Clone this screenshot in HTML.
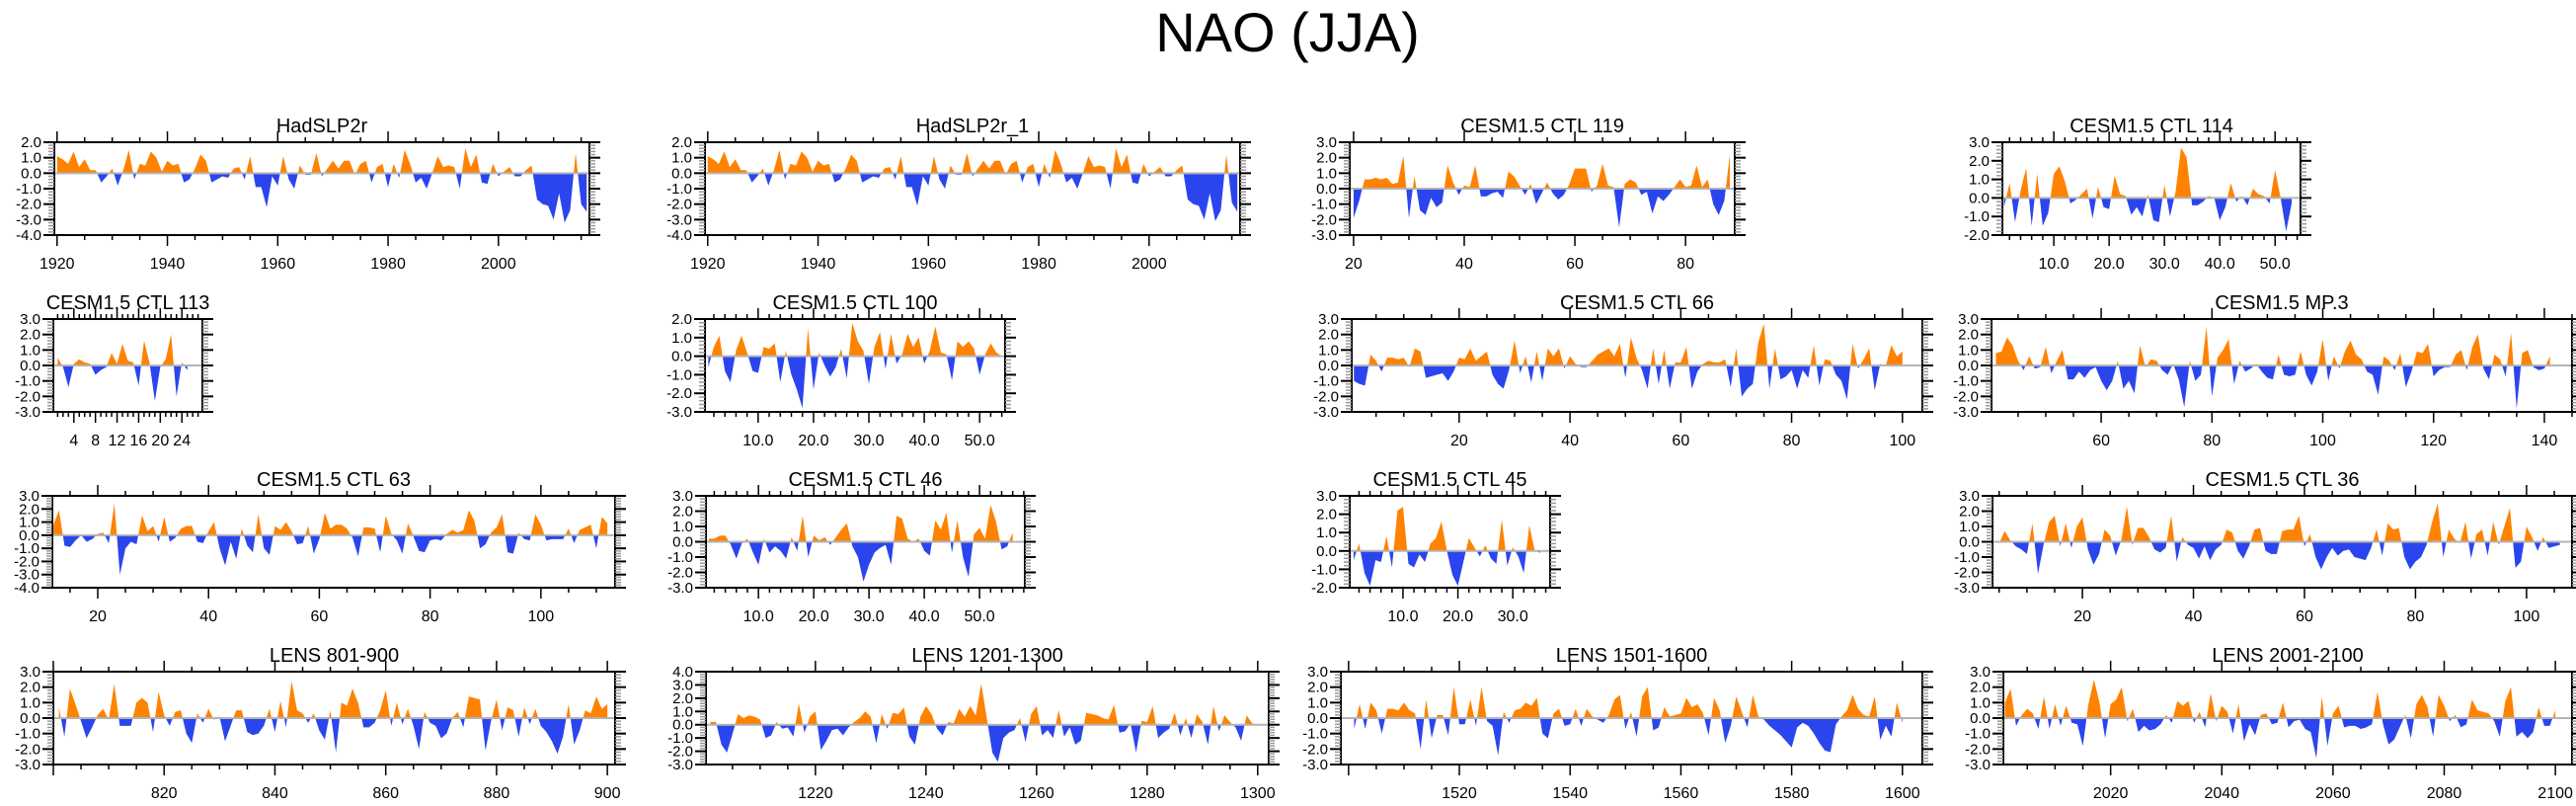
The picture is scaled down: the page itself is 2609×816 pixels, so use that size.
<!DOCTYPE html>
<html><head><meta charset="utf-8"><title>NAO (JJA)</title>
<style>
html,body{margin:0;padding:0;background:#fff;}
svg{display:block;font-family:"Liberation Sans",Arial,sans-serif;}
</style></head>
<body>
<svg id="fig" xmlns="http://www.w3.org/2000/svg" width="2609" height="816" viewBox="0 0 2609 816">
<rect x="0" y="0" width="2609" height="816" fill="#fff"/>
<text x="1304" y="52" font-size="56" text-anchor="middle" fill="#000">NAO (JJA)</text>
</svg>
<script>
// ---- data arrays (one value per time step) ----
const hadX0 = 1920;
const hadVals = [1.1,0.9,0.6,1.4,0.4,0.9,0.2,0.2,-0.6,-0.2,0.3,-0.8,0.2,1.5,-0.4,0.6,0.5,1.4,1.0,0.1,0.8,0.5,0.6,-0.6,-0.4,0.3,1.2,0.8,-0.6,-0.4,-0.2,-0.3,0.3,0.4,-0.4,1.1,-0.9,-0.9,-2.2,-0.2,-0.8,1.1,-0.4,-1.0,0.5,-0.1,-0.1,1.3,-0.2,0.3,0.8,0.3,0.8,0.8,-0.1,0.6,0.8,-0.6,0.4,0.6,-0.9,0.6,-0.3,1.5,0.6,-0.6,-0.3,-1.0,0.0,1.1,0.4,0.5,0.4,-1.0,1.6,0.4,1.2,-0.6,-0.7,0.6,-0.2,0.1,0.4,-0.2,-0.2,0.2,0.5,-1.7,-2.0,-2.1,-3.0,-1.3,-3.2,-2.4,1.3,-2.0,-2.5];
const had1X0 = 1920;
const had1Vals = [1.1,0.9,0.6,1.4,0.4,0.9,0.2,0.2,-0.6,-0.2,0.3,-0.8,0.2,1.5,-0.4,0.6,0.5,1.4,1.0,0.1,0.8,0.5,0.6,-0.6,-0.4,0.3,1.2,0.8,-0.6,-0.4,-0.2,-0.3,0.3,0.4,-0.4,1.1,-0.9,-0.9,-2.1,-0.2,-0.8,1.1,-0.4,-1.0,0.5,-0.1,-0.1,1.3,-0.2,0.3,0.8,0.3,0.8,0.8,-0.1,0.6,0.8,-0.6,0.4,0.6,-0.9,0.6,-0.3,1.5,0.6,-0.6,-0.3,-1.0,0.0,1.1,0.4,0.5,0.4,-1.0,1.6,0.4,1.2,-0.6,-0.7,0.6,-0.2,0.1,0.4,-0.2,-0.2,0.2,0.5,-1.7,-2.0,-2.1,-3.0,-1.3,-3.1,-2.4,1.2,-1.9,-2.5];
const c119X0 = 20;
const c119Vals = [-1.9,-0.8,0.6,0.6,0.7,0.6,0.7,0.3,0.4,2.1,-1.9,0.8,-1.4,-1.7,-0.6,-1.2,-0.9,1.5,0.4,-0.4,0.2,0.1,1.5,-0.5,-0.5,-0.3,-0.2,-0.6,1.1,0.8,0.2,-0.4,0.3,-1.0,-0.3,0.4,-0.3,-0.7,-0.4,0.3,1.3,1.3,1.3,-0.2,0.2,1.6,0.2,0.1,-2.5,0.3,0.6,0.4,-0.4,-0.2,-1.6,-0.5,-0.8,-0.4,0.1,0.6,0.1,0.2,1.5,0.1,0.6,-1.0,-1.7,-0.8,2.2];
const c114X0 = 1;
const c114Vals = [-0.5,0.8,-1.3,0.4,1.6,-1.5,1.3,-1.5,-0.8,1.3,1.7,0.9,-0.3,-0.1,0.2,0.5,-1.1,0.6,-0.5,-0.6,1.2,0.2,0.1,-0.9,-0.5,-1.0,0.2,-1.2,-1.3,0.7,-1.0,0.3,2.7,2.2,-0.4,-0.4,-0.2,0.1,0.0,-1.2,-0.5,0.8,-0.2,0.1,-0.4,0.5,0.2,0.1,-0.3,1.5,0.0,-1.8,-0.3];
const c113X0 = 1;
const c113Vals = [0.5,-0.1,-1.4,0.1,0.4,0.2,0.1,-0.6,-0.3,-0.1,0.8,0.1,1.4,0.3,0.2,-1.3,1.6,0.2,-2.3,-0.1,0.4,2.0,-2.0,0.2,-0.3];
const c100X0 = 1;
const c100Vals = [-0.6,0.5,1.1,-0.8,-1.4,0.3,1.1,0.2,-0.8,-0.9,0.5,0.4,0.7,-1.4,0.3,-1.0,-1.8,-2.8,1.5,-1.8,0.2,-0.5,-1.1,-0.6,0.4,-1.2,1.8,0.8,0.3,-1.5,0.5,1.3,-0.7,1.2,-0.4,0.1,1.2,0.5,1.0,-0.4,0.3,1.6,0.2,0.1,-1.3,0.8,0.5,0.8,0.4,-1.0,0.1,0.7,0.2,0.0];
const c66X0 = 1;
const c66Vals = [-1.0,-1.2,-1.3,0.7,0.3,-0.4,0.5,0.5,0.4,0.5,-0.1,1.1,0.9,-0.8,-0.7,-0.6,-0.5,-1.0,-0.4,0.5,0.4,1.1,0.3,0.6,0.9,-0.6,-1.2,-1.5,-0.3,1.6,-0.5,0.6,-1.1,0.9,-1.0,1.1,0.6,1.1,-0.2,0.6,0.1,-0.1,-0.1,0.3,0.7,0.9,1.1,0.6,1.4,-0.8,1.8,0.5,-0.3,-1.5,1.1,-1.2,1.0,-1.5,0.2,0.2,1.2,-1.5,-0.4,0.1,0.3,0.2,0.2,0.4,-1.4,1.1,-2.0,-1.5,-1.2,1.5,2.7,-1.5,1.1,-0.9,-0.7,-0.3,-1.5,-0.3,-0.8,1.3,-1.3,0.4,0.3,-0.6,-1.0,-2.2,1.4,-0.2,0.4,1.1,-1.6,0.1,0.0,1.3,0.6,0.9];
const mp3X0 = 41;
const mp3Vals = [0.8,0.9,1.8,1.3,0.3,-0.3,0.6,-0.2,-0.1,1.2,-0.5,0.3,1.0,-0.9,-0.9,-0.4,-0.8,-0.3,-0.1,-1.0,-1.6,-1.0,0.3,-1.5,-1.0,-1.8,1.3,-0.1,0.4,0.3,-0.3,-0.6,0.1,-0.9,-2.7,0.3,-1.0,-0.6,2.5,-2.0,0.5,1.0,1.7,-1.2,0.3,-0.4,-0.2,0.1,-0.4,-0.8,-0.9,0.7,-0.6,-0.7,-0.6,0.9,-0.6,-1.3,-0.4,1.7,-1.0,0.6,-0.2,0.9,1.6,0.7,0.4,-0.4,-0.6,-1.9,0.6,0.3,-0.3,0.8,-1.4,-0.4,0.9,0.8,1.4,-0.7,-0.3,-0.1,-0.1,0.7,1.0,-0.3,1.2,2.0,-0.2,-0.9,0.7,0.4,-0.7,2.1,-2.8,0.8,1.0,-0.1,-0.3,-0.2,0.6];
const c63X0 = 12;
const c63Vals = [0.8,1.9,-0.8,-0.9,-0.4,0.0,-0.5,-0.3,0.1,0.2,-0.6,2.4,-3.0,-1.0,-0.5,-0.7,1.5,0.3,0.7,-0.5,1.4,-0.5,-0.2,0.5,0.7,0.7,-0.5,-0.6,0.3,1.0,-1.0,-2.3,-0.5,-1.8,0.5,-0.8,-1.3,1.6,-1.0,-1.5,0.7,0.4,1.0,0.3,-0.7,-0.6,0.7,-1.4,-0.3,1.7,0.5,0.8,0.8,0.5,-0.2,-1.6,0.6,0.6,0.5,-1.3,1.5,0.1,-0.4,-1.4,0.9,-0.1,-1.2,-1.3,-0.4,-0.3,-0.4,0.1,0.4,0.2,0.4,1.9,1.1,-1.0,-0.7,0.2,0.6,1.6,-1.3,-1.4,0.2,-0.3,-0.4,1.6,0.8,-0.4,-0.3,-0.3,-0.3,0.5,-0.6,0.4,0.6,0.8,-1.0,1.4,0.9];
const c46X0 = 1;
const c46Vals = [0.2,0.2,0.4,0.4,-0.2,-1.1,-0.1,0.2,-0.7,-1.5,0.2,-0.7,-0.3,-0.6,-1.1,0.3,-0.6,1.7,-1.0,0.4,0.1,0.3,-0.2,0.3,0.8,1.2,-0.3,-1.0,-2.6,-1.5,-0.7,-0.4,-0.2,-1.5,1.7,1.5,0.2,0.0,0.2,-0.6,-0.9,1.4,0.8,1.9,-0.7,1.4,-1.0,-2.3,0.5,0.9,0.2,2.4,1.3,-0.5,-0.3,0.6];
const c45X0 = 1;
const c45Vals = [-0.5,0.4,-1.2,-1.9,-0.5,-0.6,0.8,-0.9,2.2,2.4,-0.7,-0.9,-0.2,-0.6,0.4,0.7,1.6,0.0,-1.3,-1.9,-0.6,0.7,0.2,-0.3,0.3,-0.4,-0.7,1.7,-0.8,0.2,-0.3,-1.2,1.4,0.0,-0.1];
const c36X0 = 5;
const c36Vals = [-0.1,0.7,0.1,-0.3,-0.5,-0.8,1.2,-2.1,-0.2,1.3,1.7,-0.3,1.2,-0.4,1.0,1.6,-0.5,-1.5,-0.8,0.8,0.4,-0.9,0.1,2.3,-0.2,0.9,0.9,0.3,-0.5,-0.7,-0.4,1.7,-1.3,0.3,-0.2,-0.4,-1.1,-0.3,-1.2,-0.5,-0.2,0.8,0.6,-0.6,-1.1,-0.3,0.8,0.9,-0.6,-0.8,-0.8,0.7,0.8,0.8,1.7,-0.3,0.5,-1.0,-1.8,-1.0,-0.4,-0.9,-0.6,-0.5,-1.0,-1.1,-1.2,-0.4,0.8,-0.9,1.2,0.8,0.9,-1.0,-1.8,-1.3,-1.0,-0.2,1.3,2.5,-1.0,0.8,0.2,-0.1,1.3,-1.1,0.5,0.8,-0.9,1.3,-0.2,1.0,2.2,-1.7,-1.3,1.0,0.3,-0.6,0.3,-0.4,-0.3,-0.2];
const l800X0 = 801;
const l800Vals = [0.7,-1.2,1.9,0.9,-0.2,-1.3,-0.6,0.2,0.6,-0.1,2.2,-0.5,-0.5,-0.5,1.0,1.3,1.0,-0.9,1.7,0.2,-0.5,0.4,0.5,-1.0,-1.6,0.3,-0.3,0.6,-0.1,0.1,-1.5,-0.5,0.5,0.5,-0.9,-1.1,-1.0,-0.5,0.6,-0.9,1.1,-0.6,2.4,0.5,0.3,-0.3,0.3,-0.8,-1.4,0.5,-2.2,1.0,0.8,1.9,1.0,-0.6,-0.6,-0.3,0.5,1.8,-0.5,1.0,-0.4,0.6,-0.5,-2.0,0.4,-0.3,-0.5,-1.3,-1.0,0.0,0.4,-0.6,1.4,1.3,1.2,-2.1,-0.2,1.2,-0.8,0.7,0.5,-1.2,0.7,-0.4,0.6,-0.5,-0.9,-1.5,-2.3,-1.2,0.9,-1.7,-0.8,0.5,0.3,1.4,0.6,0.9];
const l1200X0 = 1201;
const l1200Vals = [0.2,0.2,-1.5,-2.1,-0.7,0.8,0.5,0.7,0.6,0.4,-1.0,-0.8,0.2,-0.3,-0.2,-0.9,1.6,-0.6,0.6,1.0,-1.9,-1.2,-0.4,-0.3,-0.8,-0.2,0.2,0.5,1.0,0.6,-1.4,0.8,-0.3,0.9,0.8,1.3,-0.9,-1.5,0.6,1.4,0.8,-0.3,-0.8,0.2,0.1,1.2,0.6,1.4,0.7,3.1,0.5,-2.1,-2.8,-1.0,-0.6,-0.4,0.5,-1.3,0.8,1.4,-0.8,-0.4,-1.0,1.1,-0.9,-0.2,-1.5,-1.2,0.9,0.8,0.7,0.5,0.4,1.5,-0.6,-0.5,0.1,-2.1,0.3,0.2,1.4,-1.0,-0.6,-0.3,0.9,-0.8,0.5,-1.0,0.8,0.2,-1.5,1.4,-0.5,0.7,0.2,-0.2,-1.2,0.7,0.1,0.0];
const l1500X0 = 1501;
const l1500Vals = [-0.7,0.9,-0.7,1.0,0.5,-1.0,0.6,0.6,0.5,1.0,0.5,0.3,-2.0,1.2,-1.3,0.2,0.2,-1.1,2.0,-0.4,-0.4,1.2,-0.5,2.0,-0.2,-0.5,-2.4,0.4,-0.3,0.5,0.6,1.0,0.8,1.3,-1.0,-1.3,0.3,0.6,-0.5,-0.4,0.6,-0.5,0.6,0.1,-0.1,-0.3,0.2,1.2,1.5,-0.7,0.4,-1.2,1.4,2.0,-0.8,-0.6,0.7,0.1,0.2,0.3,1.3,0.7,0.9,0.3,-1.1,1.3,0.5,-1.6,-0.5,1.4,0.4,-0.6,1.5,0.1,-0.1,-0.5,-0.8,-1.1,-1.5,-1.9,-0.6,-0.3,-0.5,-1.0,-1.6,-2.1,-2.2,-0.4,0.1,0.5,1.5,0.6,0.2,0.1,1.4,-1.4,-0.5,-1.2,1.0,-0.3];
const l2000X0 = 2001;
const l2000Vals = [1.0,1.9,-0.5,0.2,0.6,0.3,-0.7,1.4,-0.7,0.9,-0.5,0.8,-0.3,-0.4,-1.8,0.9,2.5,1.0,-1.3,0.9,1.2,2.0,-0.2,0.6,-0.9,-0.5,-0.8,-0.7,-0.4,0.2,-0.3,1.1,0.8,1.1,-0.3,0.4,-0.6,1.6,-0.2,0.8,0.4,-1.0,0.9,-1.5,-0.4,-1.1,0.2,0.3,-0.4,-0.3,1.0,-0.6,-0.2,-0.1,-0.7,-0.9,-2.6,1.4,-1.8,0.3,0.8,-0.6,-0.5,-0.5,-0.7,-0.6,-0.4,1.7,-0.4,-1.7,-1.4,-0.6,0.2,-1.3,0.9,1.5,0.7,-1.2,1.5,0.8,-0.2,0.2,-0.6,-0.4,1.2,0.5,0.4,0.3,-0.2,-1.2,1.1,2.0,-1.2,-0.9,-1.3,-0.9,0.7,-0.5,-0.5,0.5];
// tick label arrays
const yearTicks1900 = [1920,1940,1960,1980,2000];
const ticks20to80 = [20,40,60,80];
const ticks10to50 = [10,20,30,40,50];
const ticks4to24 = [4,8,12,16,20,24];
const ticks20to100 = [20,40,60,80,100];
const ticks60to140 = [60,80,100,120,140];
const ticks10to30 = [10,20,30];
const ticks820 = [820,840,860,880,900];
const ticks1220 = [1220,1240,1260,1280,1300];
const ticks1520 = [1520,1540,1560,1580,1600];
const ticks2020 = [2020,2040,2060,2080,2100];

// ---- layout (not data) ----
const panels = [
 {name:'hadslp2r',title:'HadSLP2r',L:55,R:597,T:144,B:238,xmin:1919.5,xmax:2016.5,ymin:-4,ymax:2,x0:hadX0,vals:hadVals,ticks:yearTicks1900,minor:5,dec:false},
 {name:'hadslp2r-1',title:'HadSLP2r_1',L:714,R:1256,T:144,B:238,xmin:1919.5,xmax:2016.5,ymin:-4,ymax:2,x0:had1X0,vals:had1Vals,ticks:yearTicks1900,minor:5,dec:false},
 {name:'ctl-119',title:'CESM1.5 CTL 119',L:1367,R:1757,T:144,B:238,xmin:19.3,xmax:88.9,ymin:-3,ymax:3,x0:c119X0,vals:c119Vals,ticks:ticks20to80,minor:5,dec:false},
 {name:'ctl-114',title:'CESM1.5 CTL 114',L:2028,R:2330,T:144,B:238,xmin:0.7,xmax:54.6,ymin:-2,ymax:3,x0:c114X0,vals:c114Vals,ticks:ticks10to50,minor:2,dec:true},
 {name:'ctl-113',title:'CESM1.5 CTL 113',L:54,R:205,T:323,B:417,xmin:0.2,xmax:27.8,ymin:-3,ymax:3,x0:c113X0,vals:c113Vals,ticks:ticks4to24,minor:1,dec:false},
 {name:'ctl-100',title:'CESM1.5 CTL 100',L:714,R:1018,T:323,B:417,xmin:0.4,xmax:54.6,ymin:-3,ymax:2,x0:c100X0,vals:c100Vals,ticks:ticks10to50,minor:2,dec:true},
 {name:'ctl-66',title:'CESM1.5 CTL 66',L:1369,R:1947,T:323,B:417,xmin:0.6,xmax:103.6,ymin:-3,ymax:3,x0:c66X0,vals:c66Vals,ticks:ticks20to100,minor:5,dec:false},
 {name:'mp-3',title:'CESM1.5 MP.3',L:2017,R:2605,T:323,B:417,xmin:40.2,xmax:145,ymin:-3,ymax:3,x0:mp3X0,vals:mp3Vals,ticks:ticks60to140,minor:5,dec:false},
 {name:'ctl-63',title:'CESM1.5 CTL 63',L:53,R:623,T:502,B:595,xmin:11.8,xmax:113.4,ymin:-4,ymax:3,x0:c63X0,vals:c63Vals,ticks:ticks20to100,minor:5,dec:false},
 {name:'ctl-46',title:'CESM1.5 CTL 46',L:715,R:1038,T:502,B:595,xmin:0.5,xmax:58.2,ymin:-3,ymax:3,x0:c46X0,vals:c46Vals,ticks:ticks10to50,minor:2,dec:true},
 {name:'ctl-45',title:'CESM1.5 CTL 45',L:1367,R:1570,T:502,B:595,xmin:0.3,xmax:36.8,ymin:-2,ymax:3,x0:c45X0,vals:c45Vals,ticks:ticks10to30,minor:2,dec:true},
 {name:'ctl-36',title:'CESM1.5 CTL 36',L:2018,R:2605,T:502,B:595,xmin:3.8,xmax:108.2,ymin:-3,ymax:3,x0:c36X0,vals:c36Vals,ticks:ticks20to100,minor:5,dec:false},
 {name:'lens-801-900',title:'LENS 801-900',L:54,R:623,T:680,B:774,xmin:800,xmax:901.4,ymin:-3,ymax:3,x0:l800X0,vals:l800Vals,ticks:ticks820,minor:5,dec:false},
 {name:'lens-1201-1300',title:'LENS 1201-1300',L:715,R:1285,T:680,B:774,xmin:1200.2,xmax:1302,ymin:-3,ymax:4,x0:l1200X0,vals:l1200Vals,ticks:ticks1220,minor:5,dec:false},
 {name:'lens-1501-1600',title:'LENS 1501-1600',L:1358,R:1947,T:680,B:774,xmin:1498.6,xmax:1603.6,ymin:-3,ymax:3,x0:l1500X0,vals:l1500Vals,ticks:ticks1520,minor:5,dec:false},
 {name:'lens-2001-2100',title:'LENS 2001-2100',L:2029,R:2605,T:680,B:774,xmin:2000.7,xmax:2103,ymin:-3,ymax:3,x0:l2000X0,vals:l2000Vals,ticks:ticks2020,minor:5,dec:false}
];

const NS='http://www.w3.org/2000/svg';
const fig=document.getElementById('fig');
function mk(tag,attrs,parent){const e=document.createElementNS(NS,tag);for(const k in attrs)e.setAttribute(k,attrs[k]);parent.appendChild(e);return e;}

panels.forEach(p=>{
  const g=mk('g',{},fig);
  
  
  const sx=v=>p.L+(v-p.xmin)/(p.xmax-p.xmin)*(p.R-p.L);
  const sy=v=>p.B-(v-p.ymin)/(p.ymax-p.ymin)*(p.B-p.T);
  const y0=sy(0);
  // fills
  const pts=p.vals.map((v,i)=>[p.x0+i,v]);
  function poly(sign){
    let d='M'+sx(pts[0][0]).toFixed(2)+','+y0.toFixed(2);
    for(let i=0;i<pts.length;i++){
      const [x,v]=pts[i];
      if(i>0){const [xp,vp]=pts[i-1]; if((vp>0&&v<0)||(vp<0&&v>0)){const xc=xp+(0-vp)/(v-vp)*(x-xp); d+=' L'+sx(xc).toFixed(2)+','+y0.toFixed(2);}}
      const c=sign>0?Math.max(v,0):Math.min(v,0);
      d+=' L'+sx(x).toFixed(2)+','+sy(c).toFixed(2);
    }
    d+=' L'+sx(pts[pts.length-1][0]).toFixed(2)+','+y0.toFixed(2)+' Z';
    return d;
  }
  const pos=mk('path',{d:poly(1),fill:'#ff8200',stroke:'none'},g);
  
  
  const neg=mk('path',{d:poly(-1),fill:'#2b45ee',stroke:'none'},g);
  
  
  const zl=mk('line',{x1:p.L,x2:p.R,y1:y0,y2:y0,stroke:'#b4b4b4','stroke-width':2},g);
  
  
  // frame
  const fr=mk('rect',{x:p.L,y:p.T,width:p.R-p.L,height:p.B-p.T,fill:'none',stroke:'#000','stroke-width':2},g);
  
  
  // y ticks
  for(let v=p.ymin;v<=p.ymax+1e-9;v+=0.2){
    const y=sy(v); const major=Math.abs(v-Math.round(v))<1e-6;
    const len=major?11:6; const col=major?'#000':'#999';
    mk('line',{x1:p.L-len,x2:p.L,y1:y,y2:y,stroke:col,'stroke-width':major?2:1.5},g);
    mk('line',{x1:p.R,x2:p.R+len,y1:y,y2:y,stroke:col,'stroke-width':major?2:1.5},g);
    if(major){
      const t=mk('text',{x:p.L-13,y:y+5,'font-size':15,'text-anchor':'end',fill:'#000'},g);
      t.textContent=Math.round(v).toFixed(1);
      
      
    }
  }
  // x ticks
  const start=Math.ceil(p.xmin/p.minor)*p.minor;
  for(let v=start;v<=p.xmax;v+=p.minor){
    const x=sx(v); const major=p.ticks.indexOf(Math.round(v))>=0 || (Math.round(v)%(p.ticks[1]-p.ticks[0])===0);
    const len=major?11:5;
    mk('line',{x1:x,x2:x,y1:p.T-len,y2:p.T,stroke:'#000','stroke-width':1.5},g);
    mk('line',{x1:x,x2:x,y1:p.B,y2:p.B+len,stroke:'#000','stroke-width':1.5},g);
  }
  p.ticks.forEach(v=>{
    const t=mk('text',{x:sx(v),y:p.B+34,'font-size':16,'text-anchor':'middle',fill:'#000'},g);
    t.textContent=p.dec?v.toFixed(1):String(v);
    
    
  });
  const tt=mk('text',{x:(p.L+p.R)/2,y:p.T-10,'font-size':20,'text-anchor':'middle',fill:'#000'},g);
  tt.textContent=p.title;
  
  
});
</script>
</body></html>
